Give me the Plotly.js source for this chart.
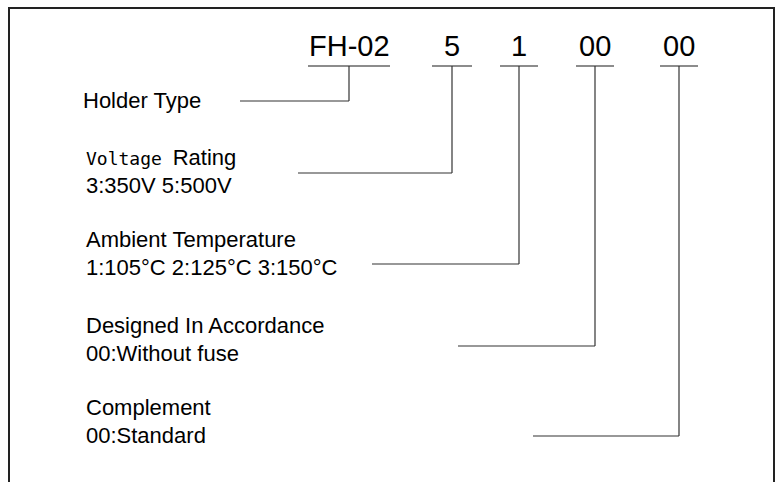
<!DOCTYPE html>
<html>
<head>
<meta charset="utf-8">
<script src="https://cdn.plot.ly/plotly-3.0.1.min.js"></script>
<style>html,body{margin:0;padding:0;background:#fff;}#chart{width:780px;height:482px;}</style>
</head>
<body>
<div id="chart"></div>
<script>
// Code segments of the part number
const codes = ["FH-02", "5", "1", "00", "00"];
// Field names and option descriptions for each code segment
const fieldNames = ["Holder Type", "Voltage Rating", "Ambient Temperature", "Designed In Accordance", "Complement"];
const fieldOptions = ["", "3:350V 5:500V", "1:105°C 2:125°C 3:150°C", "00:Without fuse", "00:Standard"];

// Layout geometry (pixels in a 780x482 canvas)
const codeX = [349, 452, 519, 595, 679];
const underlineHalf = [41, 20, 19, 19, 19];
const codeY = 46, underlineY = 66;
const leaderY = [101, 173, 264, 346, 436];
const leaderStartX = [240, 298, 372, 458, 533];
const nameY = [100, 157, 239, 325, 407];
const optY = [0, 185, 267, 353, 435];
const textX = [81, 84, 84, 84, 84];

const lineColor = "#333";
const shapes = [];
const annotations = [];

// frame
shapes.push({type:"line", xref:"x", yref:"y", x0:9, y0:8, x1:774, y1:8, line:{color:"#222", width:2}});
shapes.push({type:"line", xref:"x", yref:"y", x0:9, y0:7, x1:9, y1:482, line:{color:"#222", width:2}});
shapes.push({type:"line", xref:"x", yref:"y", x0:774, y0:7, x1:774, y1:482, line:{color:"#222", width:2}});

codes.forEach((c, i) => {
  annotations.push({x: codeX[i], y: codeY, xref:"x", yref:"y", text: c, showarrow:false,
    xanchor:"center", yanchor:"middle", font:{family:"Liberation Sans, Arial", size:29, color:"#000"}});
  shapes.push({type:"line", x0: codeX[i]-underlineHalf[i], x1: codeX[i]+underlineHalf[i], y0: underlineY, y1: underlineY,
    line:{color:"#666", width:1.5}});
  shapes.push({type:"line", x0: codeX[i], x1: codeX[i], y0: underlineY, y1: leaderY[i], line:{color:lineColor, width:1.2}});
  shapes.push({type:"line", x0: leaderStartX[i], x1: codeX[i], y0: leaderY[i], y1: leaderY[i], line:{color:lineColor, width:1.2}});
});

fieldNames.forEach((n, i) => {
  let txt = n;
  if (n === "Voltage Rating") {
    txt = '<span style="font-family:\'DejaVu Sans Mono\', monospace;font-size:18px">Voltage </span>Rating';
  }
  annotations.push({x: textX[i], y: nameY[i], xref:"x", yref:"y", text: txt, showarrow:false,
    xanchor:"left", yanchor:"middle", font:{family:"Liberation Sans, Arial", size:22, color:"#000"}});
  if (fieldOptions[i]) {
    annotations.push({x: textX[i], y: optY[i], xref:"x", yref:"y", text: fieldOptions[i], showarrow:false,
      xanchor:"left", yanchor:"middle", font:{family:"Liberation Sans, Arial", size:22, color:"#000"}});
  }
});

const layout = {
  width: 780, height: 482,
  margin: {l:0, r:0, t:0, b:0},
  paper_bgcolor: "#fff", plot_bgcolor: "#fff",
  xaxis: {range:[0,780], visible:false, fixedrange:true},
  yaxis: {range:[482,0], visible:false, fixedrange:true},
  shapes: shapes,
  annotations: annotations,
  showlegend: false
};
Plotly.newPlot("chart", [], layout, {displayModeBar:false, staticPlot:true});
</script>
</body>
</html>
